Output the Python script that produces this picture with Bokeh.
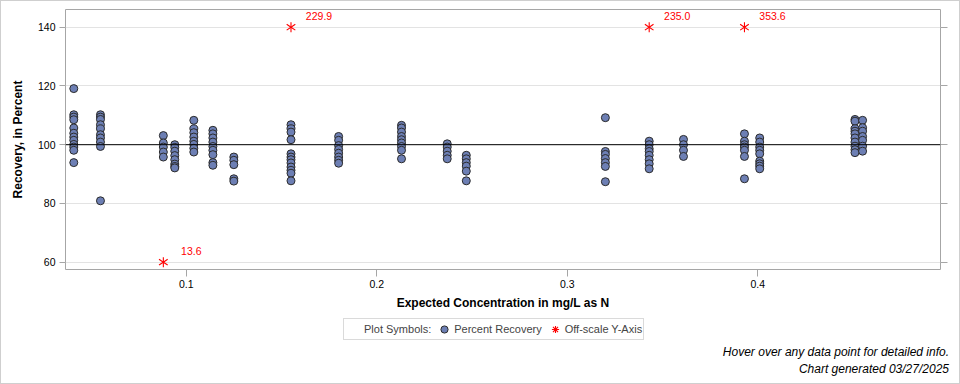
from bokeh.plotting import figure
from bokeh.layouts import column
from bokeh.models import (Range1d, FixedTicker, LinearAxis, Span, Legend,
                          LegendItem, ColumnDataSource, Div)
from bokeh.core.properties import value
from bokeh.embed import file_html
from bokeh.resources import INLINE

FONT = "Liberation Sans"

# ---------------- data ----------------
conc = [0.041, 0.055, 0.088, 0.094, 0.104, 0.114, 0.125, 0.155, 0.180, 0.213,
        0.237, 0.247, 0.320, 0.343, 0.361, 0.393, 0.401, 0.451, 0.455]

recovery = [
    [119.1, 110.2, 109.4, 108.5, 105.7, 103.9, 102.6, 101.5, 100.1, 99.2, 98.1, 93.9],
    [110.2, 109.4, 108.6, 106.8, 105.4, 103.4, 102.3, 100.9, 99.4, 80.9],
    [103.1, 100.6, 99.2, 97.5, 95.8],
    [100.0, 99.1, 97.8, 96.3, 94.9, 93.4, 92.6, 92.1],
    [108.3, 105.4, 104.1, 102.6, 101.2, 100.1, 98.8, 97.5],
    [104.9, 103.7, 102.3, 100.9, 99.4, 98.1, 96.6, 93.9, 93.0],
    [95.8, 94.7, 93.2, 88.4, 87.6],
    [106.8, 105.4, 104.3, 101.7, 96.9, 95.8, 94.9, 93.8, 92.4, 91.3, 90.3, 87.7],
    [102.8, 101.5, 99.7, 98.4, 97.1, 95.8, 94.7, 93.7],
    [106.6, 105.7, 104.3, 102.8, 101.7, 100.6, 99.4, 98.1, 95.2],
    [100.3, 99.2, 97.8, 96.4, 95.2],
    [96.4, 95.2, 93.9, 92.7, 91.0, 87.7],
    [109.2, 97.7, 96.7, 95.3, 93.9, 92.6, 87.4],
    [101.2, 100.0, 98.6, 97.7, 96.4, 94.9, 93.5, 91.8],
    [101.8, 100.0, 98.1, 96.0],
    [103.7, 101.2, 100.0, 99.2, 98.1, 96.0, 88.4],
    [102.3, 100.9, 99.2, 98.1, 96.9, 94.4, 93.5, 92.7, 91.8],
    [108.6, 108.0, 105.4, 104.6, 103.7, 102.3, 100.9, 99.5, 98.3, 97.3],
    [108.3, 105.8, 104.6, 102.8, 101.5, 99.5, 97.8],
]

off_conc = [0.088, 0.155, 0.343, 0.393]
off_value = [13.6, 229.9, 235.0, 353.6]

y_min_shown, y_max_shown = 60, 140
y_ticks = [60, 80, 100, 120, 140]
x_ticks = [0.1, 0.2, 0.3, 0.4]
x_tick_labels = ["0.1", "0.2", "0.3", "0.4"]
target = 100

legend_labels = ["Plot Symbols:", "Percent Recovery", "Off-scale Y-Axis"]
footnotes = ["Hover over any data point for detailed info.",
             "Chart generated 03/27/2025"]

# ---------------- styles ----------------
CIRCLE = dict(marker="circle", size=8, fill_color="#6d7fb4",
              line_color="#2b2b2b", line_width=1)
STAR = dict(size=10, line_color="red", line_width=1.1)

# ---------------- sources ----------------
xs, ys = [], []
for c, vals in zip(conc, recovery):
    for v in vals:
        xs.append(c)
        ys.append(v)
pts = ColumnDataSource(dict(x=xs, y=ys))

off_y = [y_min_shown if v < y_min_shown else y_max_shown for v in off_value]
off = ColumnDataSource(dict(x=off_conc, y=off_y, label=[f"{v:.1f}" for v in off_value]))

# ---------------- main figure ----------------
p = figure(width=958, height=312, output_backend="svg", toolbar_location=None,
           x_range=Range1d(0.03665, 0.49589), y_range=Range1d(57.51, 146.03),
           min_border_left=64, min_border_right=19, min_border_top=8,
           min_border_bottom=44, background_fill_color="white",
           border_fill_color="white", outline_line_color="#a6a6a6")

p.xgrid.visible = False
p.ygrid.grid_line_color = "#e3e3e3"
p.ygrid.ticker = FixedTicker(ticks=y_ticks)

for ax in (p.xaxis[0], p.yaxis[0]):
    ax.axis_line_color = None
    ax.major_tick_line_color = "#a6a6a6"
    ax.minor_tick_line_color = None
    ax.major_tick_in = 0
    ax.major_label_text_font = FONT
    ax.major_label_text_font_size = "10.5px"
    ax.major_label_text_color = "black"
    ax.axis_label_text_font = FONT
    ax.axis_label_text_font_size = "12px"
    ax.axis_label_text_font_style = "bold"
    ax.axis_label_text_color = "black"

p.xaxis.ticker = FixedTicker(ticks=x_ticks)
p.xaxis.major_label_overrides = {t: s for t, s in zip(x_ticks, x_tick_labels)}
p.xaxis.major_tick_out = 7
p.xaxis.major_label_standoff = 3
p.xaxis.axis_label = "Expected Concentration in mg/L as N"
p.xaxis.axis_label_standoff = 5

p.yaxis.ticker = FixedTicker(ticks=y_ticks)
p.yaxis.major_tick_out = 6
p.yaxis.major_label_standoff = 4
p.yaxis.axis_label = "Recovery, in Percent"
p.yaxis.axis_label_standoff = 10

right = LinearAxis(ticker=FixedTicker(ticks=y_ticks), axis_line_color=None,
                   major_tick_line_color="#a6a6a6", major_tick_in=0, major_tick_out=7,
                   minor_tick_line_color=None, major_label_text_alpha=0,
                   major_label_standoff=0)
p.add_layout(right, "right")

p.add_layout(Span(location=target, dimension="width", line_color="black", line_width=1))

p.scatter("x", "y", source=pts, **CIRCLE)
p.scatter("x", "y", source=off, marker="y", angle=0, **STAR)
p.scatter("x", "y", source=off, marker="y", angle=3.14159265, **STAR)
p.text("x", "y", text="label", source=off, x_offset=28, y_offset=-11,
       text_align="center", text_baseline="middle", text_color="red",
       text_font=value(FONT), text_font_size="10.5px")

# ---------------- legend panel ----------------
# same sources, but a y-range in which the points fall outside the frame,
# so only the legend glyphs are visible
q = figure(width=958, height=31, output_backend="svg", toolbar_location=None,
           x_range=Range1d(0, 1), y_range=Range1d(1000, 1001),
           x_axis_location=None, y_axis_location=None,
           min_border_left=0, min_border_right=0, min_border_top=0, min_border_bottom=0,
           outline_line_color=None, background_fill_color="white",
           border_fill_color="white")
q.grid.visible = False

lg_dummy = q.scatter("x", "y", source=pts, size=0, fill_alpha=0, line_alpha=0)
lg_circle = q.scatter("x", "y", source=pts, **CIRCLE)
lg_star = q.scatter("x", "y", source=off, marker="asterisk", size=10,
                    line_color="red", line_width=1.1)

legend = Legend(items=[LegendItem(label=legend_labels[0], renderers=[lg_dummy]),
                       LegendItem(label=legend_labels[1], renderers=[lg_circle]),
                       LegendItem(label=legend_labels[2], renderers=[lg_star])],
                orientation="horizontal", location=(278, 4),
                glyph_width=18, glyph_height=18, label_height=18, label_standoff=1,
                padding=1, spacing=4, margin=0,
                label_text_font=FONT, label_text_font_size="11px",
                border_line_color="#b5b5b5", border_line_width=1,
                background_fill_color="white")
q.add_layout(legend, "center")

# ---------------- footnotes ----------------
notes = Div(
    text=(f"<div style=\"width:948px;text-align:right;font-family:'{FONT}';"
          f"font-size:12px;font-style:italic;line-height:17px;color:black;\">"
          f"{footnotes[0]}<br>{footnotes[1]}</div>"),
    width=958, height=39, margin=0)

layout = column(p, q, notes, spacing=0,
                styles={"border": "1px solid #cfcfcf"})
open("out.html", "w").write(file_html(layout, INLINE))
